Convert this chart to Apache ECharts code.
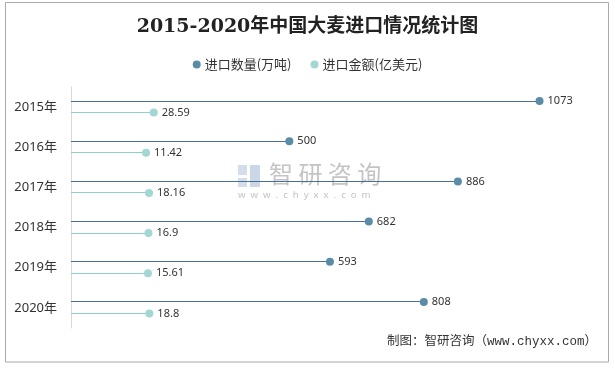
<!DOCTYPE html>
<html>
<head>
<meta charset="utf-8">
<script src="https://cdn.jsdelivr.net/npm/echarts@6/dist/echarts.min.js"></script>
<style>html,body{margin:0;padding:0;background:#fff;}#c{width:615px;height:368px;}</style>
</head>
<body>
<div id="c"></div>
<script>
const years = ['2015年', '2016年', '2017年', '2018年', '2019年', '2020年'];
const quantity = [1073, 500, 886, 682, 593, 808];
const amount = [28.59, 11.42, 18.16, 16.9, 15.61, 18.8];
const seriesNames = ['进口数量(万吨)', '进口金额(亿美元)'];

const qOff = -6, aOff = 5.5;
function lineRenderer(off, color) {
  return function (params, api) {
    const p = api.coord([api.value(0), api.value(1)]);
    const x0 = params.coordSys.x;
    const y = Math.floor(p[1] + off) + 0.5;
    return {
      type: 'line',
      shape: { x1: x0, y1: y, x2: p[0], y2: y },
      style: { stroke: color, lineWidth: 1.1 }
    };
  };
}

const chart = echarts.init(document.getElementById('c'), null, { renderer: 'canvas' });
chart.setOption({
  animation: false,
  backgroundColor: '#fff',
  textStyle: { fontFamily: "'Noto Sans', 'Noto Sans CJK SC', sans-serif" },
  title: {
    text: '2015-2020年中国大麦进口情况统计图',
    left: 'center',
    top: 13,
    textStyle: { fontFamily: "'DejaVu Serif', 'Noto Sans CJK SC', serif", fontSize: 19, fontWeight: 'bold', color: '#222' }
  },
  legend: {
    data: seriesNames,
    left: 'center',
    top: 53,
    icon: 'circle',
    itemWidth: 8,
    itemHeight: 8,
    itemGap: 19,
    textStyle: { fontSize: 13, color: '#333', fontFamily: "'Noto Sans CJK SC', sans-serif", padding: [0, 0, 0, -1] }
  },
  graphic: [
    { type: 'rect', silent: true, z: 100, shape: { x: 5.5, y: 2.5, width: 603, height: 359.5 }, style: { fill: 'none', stroke: '#aaa', lineWidth: 1 } },
    { type: 'rect', silent: true, z: -1, shape: { x: 238, y: 165, width: 9, height: 10 }, style: { fill: '#d3deea' } },
    { type: 'rect', silent: true, z: -1, shape: { x: 238, y: 178, width: 9, height: 9 }, style: { fill: '#d3deea' } },
    { type: 'rect', silent: true, z: -1, shape: { x: 250, y: 165, width: 10, height: 22 }, style: { fill: '#c9d7e7' } },
    { type: 'text', silent: true, z: -1, left: 269, top: 162, style: { text: '智 研 咨 询', fontSize: 24, fill: '#c4c4c4', fontFamily: "'Noto Sans CJK SC', sans-serif" } },
    { type: 'text', silent: true, z: -1, left: 238, top: 190, style: { text: 'w  w  w  .  c  h  y  x  x  .  c  o  m', fontSize: 9.6, fill: '#c4c4c4', fontFamily: "'Noto Sans', sans-serif" } },
    { type: 'text', silent: true, right: 18, top: 335, style: { text: '制图：智研咨询（www.chyxx.com）', fontSize: 12.5, fill: '#333', fontFamily: "'Liberation Mono', 'Noto Sans CJK SC', monospace" } }
  ],
  grid: { left: 71, right: 20, top: 87, bottom: 40, containLabel: false },
  xAxis: [
    { type: 'value', min: 0, max: 1200, show: false },
    { type: 'value', min: -156, max: 1013, show: false }
  ],
  yAxis: {
    type: 'category',
    data: years,
    inverse: true,
    axisLine: { show: true, lineStyle: { color: '#d9d9d9' } },
    axisTick: { show: false },
    splitLine: { show: false },
    axisLabel: { fontSize: 13, color: '#333', margin: 14 }
  },
  series: [
    {
      type: 'custom', name: 'qLine', xAxisIndex: 0, encode: { x: 0, y: 1 },
      data: quantity.map((v, i) => [v, i]),
      renderItem: lineRenderer(qOff, '#4a7099'), z: 2
    },
    {
      type: 'custom', name: 'aLine', xAxisIndex: 1, encode: { x: 0, y: 1 },
      data: amount.map((v, i) => [v, i]),
      renderItem: lineRenderer(aOff, '#8fcfcc'), z: 2
    },
    {
      type: 'scatter', name: seriesNames[0], xAxisIndex: 0,
      data: quantity.map((v, i) => [v, i]),
      symbolSize: 8, symbolOffset: [0, qOff],
      itemStyle: { color: '#5a8ca8', opacity: 1 },
      label: { show: true, position: 'right', distance: 4, fontSize: 11, color: '#333', formatter: p => p.value[0] },
      z: 3
    },
    {
      type: 'scatter', name: seriesNames[1], xAxisIndex: 1,
      data: amount.map((v, i) => [v, i]),
      symbolSize: 8, symbolOffset: [0, aOff],
      itemStyle: { color: '#a2d7d4', opacity: 1 },
      label: { show: true, position: 'right', distance: 4, fontSize: 11, color: '#333', formatter: p => p.value[0] },
      z: 3
    }
  ]
});
</script>
</body>
</html>
